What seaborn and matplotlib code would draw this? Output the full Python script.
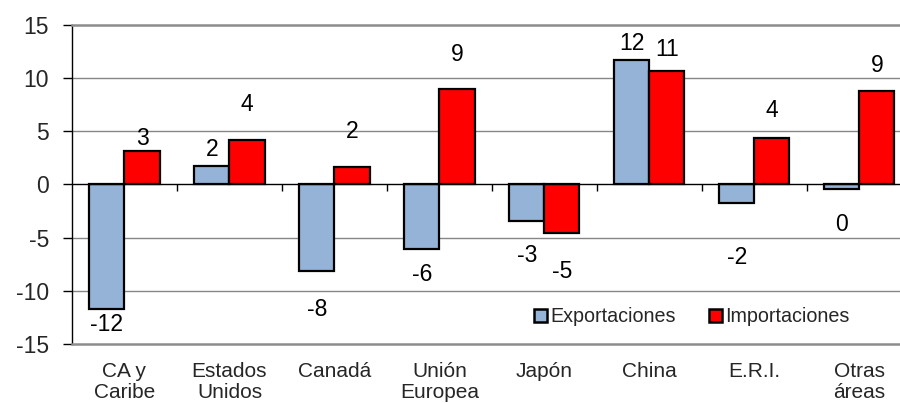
import matplotlib
matplotlib.use("Agg")
import matplotlib.pyplot as plt
import seaborn as sns
import pandas as pd

# Values
categories = ["CA y\nCaribe", "Estados\nUnidos", "Canadá", "Unión\nEuropea",
              "Japón", "China", "E.R.I.", "Otras\náreas"]
exportaciones = [-11.74, 1.74, -8.11, -6.10, -3.40, 11.71, -1.74, -0.45]
importaciones = [3.18, 4.16, 1.65, 9.01, -4.55, 10.65, 4.40, 8.83]
series = ["Exportaciones", "Importaciones"]

# Where Excel left the data labels (y in data units)
label_y_exp = [-13.2, 3.25, -11.8, -8.5, -6.7, 13.3, -6.85, -3.8]
label_y_imp = [4.36, 7.5, 4.97, 12.2, -8.2, 12.65, 7.0, 11.2]

colors = {"Exportaciones": "#95B3D7", "Importaciones": "#FF0000"}


def main():
    df = pd.DataFrame({
        "Región": categories * 2,
        "Serie": [series[0]] * len(categories) + [series[1]] * len(categories),
        "Valor": exportaciones + importaciones,
    })

    sns.set_style("white")
    plt.rcParams["font.family"] = ["Liberation Sans", "DejaVu Sans"]
    plt.rcParams["axes.unicode_minus"] = False

    fig = plt.figure(figsize=(9, 4.03), dpi=100)
    ax = fig.add_axes([0.08, 0.1464, 0.9333, 0.7916])

    sns.barplot(data=df, x="Región", y="Valor", hue="Serie", palette=colors,
                edgecolor="black", linewidth=1.6, width=0.667, gap=0,
                saturation=1, ax=ax, zorder=3)

    ax.set_ylim(-15, 15)
    ax.set_xlim(-0.5, len(categories) - 0.5)
    ax.set_yticks(range(-15, 16, 5))
    ax.set_xlabel("")
    ax.set_ylabel("")

    # gridlines
    for v in range(-10, 11, 5):
        if v != 0:
            ax.axhline(v, color="#868686", linewidth=1.0, zorder=1)
    ax.axhline(0, color="black", linewidth=1.0, zorder=4)

    for s in ["top", "bottom", "right"]:
        ax.spines[s].set_color("#8c8c8c")
        ax.spines[s].set_linewidth(1.8)
    ax.spines["left"].set_color("black")
    ax.spines["left"].set_linewidth(1.0)

    ax.tick_params(axis="y", left=True, length=6.5, width=1, direction="out",
                   labelsize=16.5, pad=10, color="black")
    ax.tick_params(axis="x", length=0, labelsize=15, pad=13)
    for t in ax.get_xticklabels():
        t.set_linespacing(1.1)

    # category separators on the zero line
    sec = ax.secondary_xaxis(0.5)
    sec.set_alignment("bottom")
    sec.set_xticks([i + 0.5 for i in range(len(categories) - 1)])
    sec.tick_params(axis="x", length=5, width=1, direction="out",
                    labelbottom=False, color="black")
    sec.spines["bottom"].set_visible(False)

    # data labels
    for cont, ys in zip(ax.containers, [label_y_exp, label_y_imp]):
        for bar, y in zip(cont, ys):
            val = bar.get_height()
            ax.text(bar.get_x() + bar.get_width() / 2, y, f"{round(val):d}",
                    ha="center", va="center", fontsize=16.5, color="black",
                    zorder=5)

    handles, labels = ax.get_legend_handles_labels()
    ax.legend(handles, labels, loc="center", bbox_to_anchor=(0.738, 0.085),
              ncol=2, frameon=False, fontsize=14.2, handlelength=0.65,
              handleheight=0.65, handletextpad=0.15, columnspacing=1.7,
              borderaxespad=0)
    for h in ax.get_legend().legend_handles:
        h.set_edgecolor("black")
        h.set_linewidth(1.8)

    fig.savefig("out.png", dpi=100)


if __name__ == "__main__":
    main()
